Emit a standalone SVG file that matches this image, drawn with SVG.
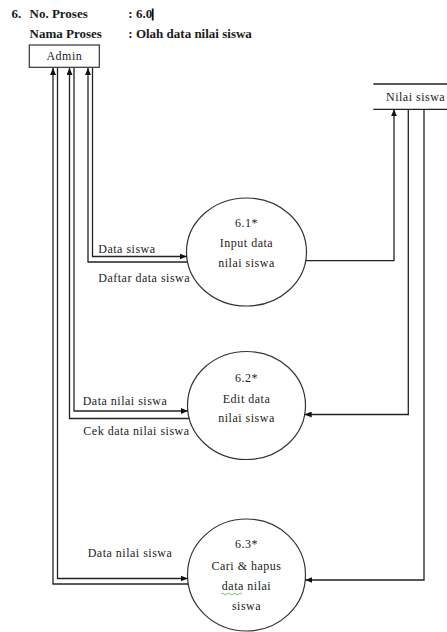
<svg xmlns="http://www.w3.org/2000/svg" width="447" height="632" viewBox="0 0 447 632">
<style>
.hdr{font-family:"Liberation Serif",serif;font-weight:bold;font-size:13px;fill:#1a1a1a}
.lbl{font-family:"Liberation Serif",serif;font-size:12px;letter-spacing:0.5px;fill:#222}
.ctr{text-anchor:middle}
.shape{fill:#fff;stroke:#333;stroke-width:1.2}
.ln{fill:none;stroke:#222;stroke-width:1.3}
</style>
<defs>
<marker id="arr" markerUnits="userSpaceOnUse" markerWidth="8" markerHeight="6" refX="7" refY="3" orient="auto">
<path d="M0,0 L7,3 L0,6 Z" fill="#111"/>
</marker>
</defs>
<rect width="447" height="632" fill="#fff"/>
<g id="header">
<text class="hdr" x="11.5" y="18">6.</text>
<text class="hdr" x="29.5" y="18">No. Proses</text>
<text class="hdr" x="128.3" y="18">: 6.0</text>
<rect x="151.8" y="8.5" width="1.8" height="12" fill="#111"/>
<text class="hdr" x="29.5" y="38.3">Nama Proses</text>
<text class="hdr" x="128.3" y="38.3">: Olah data nilai siswa</text>
</g>
<g id="admin">
<rect class="shape" x="29.3" y="45" width="70" height="22.3"/>
<text class="lbl ctr" x="64.3" y="59.5">Admin</text>
</g>
<g id="nilai-siswa">
<line class="ln" x1="373.3" y1="84" x2="447" y2="84"/>
<line class="ln" x1="373.3" y1="109.3" x2="447" y2="109.3"/>
<text class="lbl" x="386" y="100.5">Nilai siswa</text>
</g>
<g id="p61">
<ellipse class="shape" cx="246.5" cy="252" rx="60" ry="54"/>
<text class="lbl ctr" x="246.5" y="226.5">6.1*</text>
<text class="lbl ctr" x="246.5" y="246.5">Input data</text>
<text class="lbl ctr" x="246.5" y="267">nilai siswa</text>
</g>
<g id="p62">
<ellipse class="shape" cx="246.5" cy="405.5" rx="59" ry="54"/>
<text class="lbl ctr" x="246.5" y="381.7">6.2*</text>
<text class="lbl ctr" x="246.5" y="403.3">Edit data</text>
<text class="lbl ctr" x="246.5" y="422">nilai siswa</text>
</g>
<g id="p63">
<ellipse class="shape" cx="246.5" cy="575" rx="59" ry="56"/>
<text class="lbl ctr" x="246.5" y="548.3">6.3*</text>
<text class="lbl ctr" x="246.5" y="570">Cari &amp; hapus</text>
<text class="lbl ctr" x="246.5" y="590">data nilai</text>
<text class="lbl ctr" x="246.5" y="610">siswa</text>
<path d="M221,594 q1.5,-1.5 3,0 t3,0 t3,0 t3,0 t3,0 t3,0 t3,0" fill="none" stroke="#6a9a3a" stroke-width="0.8"/>
</g>
<g id="connectors">
<!-- 6.1 -->
<path class="ln" d="M92.5,68 V256.5 H186.7" marker-end="url(#arr)"/>
<path class="ln" d="M187.5,262 H88 V68" marker-end="url(#arr)"/>
<path class="ln" d="M305.7,260.7 H394 V109.3" marker-end="url(#arr)"/>
<!-- 6.2 -->
<path class="ln" d="M74,68 V411 H187.8" marker-end="url(#arr)"/>
<path class="ln" d="M189.2,418.5 H69.5 V68" marker-end="url(#arr)"/>
<path class="ln" d="M408.3,109.3 V414.5 H304.7" marker-end="url(#arr)"/>
<!-- 6.3 -->
<path class="ln" d="M57.5,68 V578.5 H187.6" marker-end="url(#arr)"/>
<path class="ln" d="M188.3,584 H53 V68" marker-end="url(#arr)"/>
<path class="ln" d="M424,109.3 V580 H305.3" marker-end="url(#arr)"/>
</g>
<g id="labels">
<text class="lbl" x="98.3" y="252.5">Data siswa</text>
<text class="lbl" x="98.3" y="281.7">Daftar data siswa</text>
<text class="lbl" x="82.7" y="405">Data nilai siswa</text>
<text class="lbl" x="83.3" y="435">Cek data nilai siswa</text>
<text class="lbl" x="87.7" y="556.7">Data nilai siswa</text>
</g>
</svg>
